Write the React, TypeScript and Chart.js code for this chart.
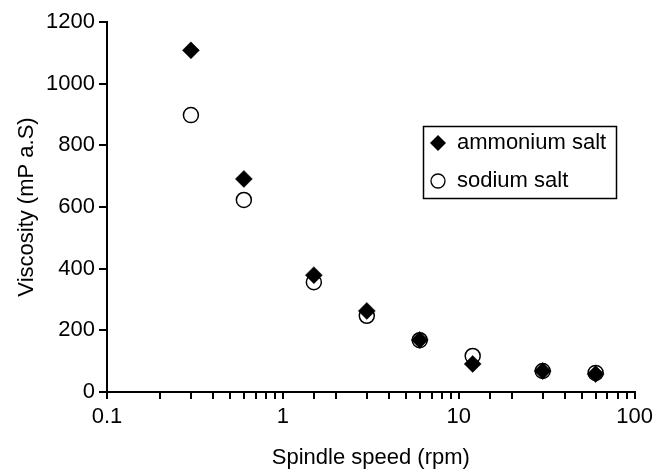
import React, { useEffect, useRef } from "react";
import { Chart, registerables } from "chart.js";

Chart.register(...registerables);

const speeds = [0.3, 0.6, 1.5, 3, 6, 12, 30, 60];
const ammoniumSalt = [1108, 691, 379, 263, 169, 91, 68, 58];
const sodiumSalt = [898, 623, 356, 247, 168, 117, 68, 62];
const seriesNames = ["ammonium salt", "sodium salt"];
const xTitle = "Spindle speed (rpm)";
const yTitle = "Viscosity (mP a.S)";
const xMajorTicks = [0.1, 1, 10, 100];
const yTicks = [0, 200, 400, 600, 800, 1000, 1200];

const FONT = "'Liberation Sans', Arial, Helvetica, sans-serif";

const legendPlugin = {
  id: "boxLegend",
  afterDraw(chart: any) {
    const ctx = chart.ctx;
    ctx.save();
    ctx.strokeStyle = "#000";
    ctx.lineWidth = 1.5;
    ctx.strokeRect(423.5, 126.5, 193, 72);
    // diamond
    const dx = 438, dy = 143, r = 8;
    ctx.beginPath();
    ctx.moveTo(dx - r, dy);
    ctx.lineTo(dx, dy - r);
    ctx.lineTo(dx + r, dy);
    ctx.lineTo(dx, dy + r);
    ctx.closePath();
    ctx.fillStyle = "#000";
    ctx.fill();
    // circle
    ctx.beginPath();
    ctx.arc(438, 181, 7, 0, Math.PI * 2);
    ctx.fillStyle = "#fff";
    ctx.fill();
    ctx.lineWidth = 1.3;
    ctx.stroke();
    ctx.fillStyle = "#000";
    ctx.font = `22px ${FONT}`;
    ctx.textBaseline = "middle";
    ctx.textAlign = "left";
    ctx.fillText(seriesNames[0], 457, 143);
    ctx.fillText(seriesNames[1], 457, 181);
    ctx.restore();
  },
};

export default function App() {
  const ref = useRef<HTMLCanvasElement>(null);
  useEffect(() => {
    if (!ref.current) return;
    const chart = new Chart(ref.current, {
      type: "scatter",
      data: {
        datasets: [
          {
            label: seriesNames[0],
            data: speeds.map((x, i) => ({ x, y: ammoniumSalt[i] })),
            pointStyle: "rectRot",
            pointRadius: 8.5,
            pointBackgroundColor: "#000",
            pointBorderColor: "#000",
            pointBorderWidth: 0.5,
          },
          {
            label: seriesNames[1],
            data: speeds.map((x, i) => ({ x, y: sodiumSalt[i] })),
            pointStyle: "circle",
            pointRadius: 7.5,
            pointBackgroundColor: "#fff",
            pointBorderColor: "#000",
            pointBorderWidth: 1.5,
          },
        ],
      },
      options: {
        responsive: false,
        animation: false,
        layout: { padding: { top: 22, right: 22, left: 0, bottom: 0 } },
        plugins: { legend: { display: false }, tooltip: { enabled: false } },
        scales: {
          x: {
            type: "logarithmic",
            min: 0.1,
            max: 100,
            afterFit: (s: any) => {
              s.height = 79;
            },
            border: { display: true, color: "#000", width: 2 },
            grid: {
              drawOnChartArea: false,
              drawTicks: true,
              tickLength: 7,
              color: "#000",
              lineWidth: 2,
            },
            ticks: {
              autoSkip: false,
              maxRotation: 0,
              padding: 5,
              color: "#000",
              font: { family: FONT, size: 22, lineHeight: 1.2 },
              callback: (v: any) => {
                const n = Number(v);
                const m = xMajorTicks.find((t) => Math.abs(t - n) / t < 1e-6);
                return m !== undefined ? String(m) : "";
              },
            },
            title: {
              display: true,
              text: xTitle,
              color: "#000",
              font: { family: FONT, size: 22, lineHeight: 1.2 },
              padding: { top: 0, bottom: 0 },
            },
          },
          y: {
            type: "linear",
            min: 0,
            max: 1200,
            afterFit: (s: any) => {
              s.width = 107;
            },
            afterBuildTicks: (s: any) => {
              s.ticks = yTicks.map((v) => ({ value: v }));
            },
            border: { display: true, color: "#000", width: 2 },
            grid: {
              drawOnChartArea: false,
              drawTicks: true,
              tickLength: 8,
              color: "#000",
              lineWidth: 2,
            },
            ticks: {
              padding: 4,
              color: "#000",
              font: { family: FONT, size: 22, lineHeight: 1.2 },
              callback: (v: any) => String(v),
            },
            title: {
              display: true,
              text: yTitle,
              color: "#000",
              font: { family: FONT, size: 22, lineHeight: 1.2 },
              padding: { top: 14, bottom: 0 },
            },
          },
        },
      } as any,
      plugins: [legendPlugin],
    });
    return () => chart.destroy();
  }, []);
  return (
    <div style={{ position: "absolute", left: 0, top: 0, width: 658, height: 471, background: "#fff" }}>
      <canvas ref={ref} width={658} height={471} />
    </div>
  );
}
